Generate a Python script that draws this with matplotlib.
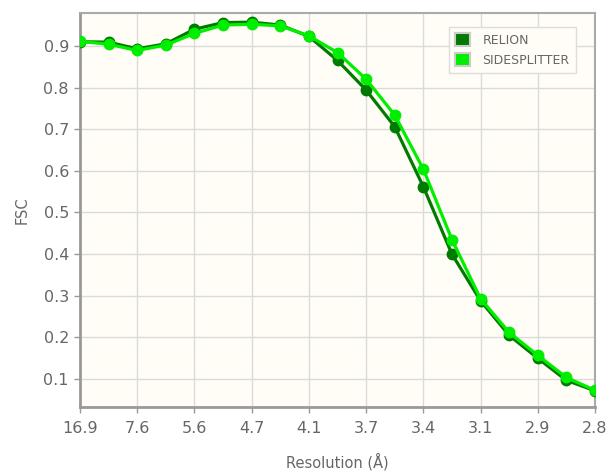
import matplotlib
matplotlib.use("Agg")
import matplotlib.pyplot as plt
from matplotlib.patches import Patch
import numpy as np

# ================================
# %% Data
# ++++++++++++++++++++++++++++++++

tick_labels = ["16.9", "7.6", "5.6", "4.7", "4.1", "3.7", "3.4", "3.1", "2.9", "2.8"]

relion = [0.910, 0.909, 0.893, 0.905, 0.940, 0.956, 0.957, 0.950, 0.923,
          0.865, 0.794, 0.706, 0.562, 0.400, 0.288, 0.205, 0.150, 0.097, 0.072]
sidesplitter = [0.911, 0.904, 0.889, 0.902, 0.930, 0.950, 0.952, 0.948, 0.924,
                0.884, 0.820, 0.734, 0.604, 0.435, 0.293, 0.212, 0.157, 0.104, 0.073]

# ================================
# %% Style
# ++++++++++++++++++++++++++++++++

c_relion = "#007a00"
c_side = "#00ee00"
txt_color = "#666666"

fig = plt.figure(figsize=(6.14, 4.72), dpi=100)
ax = fig.add_axes([80/614, 65/472, 515/614, 394/472])
ax.set_facecolor("#fffdf5")

x = np.arange(len(relion))

ax.plot(x, relion, color=c_relion, lw=2.3, marker="o", ms=7.5, zorder=3)
ax.plot(x, sidesplitter, color=c_side, lw=2.3, marker="o", ms=7.5, zorder=4)

ax.set_xlim(0, len(relion) - 1)
ax.set_ylim(0.033, 0.979)

ax.set_xticks(x[::2])
ax.set_xticklabels(tick_labels)
ax.set_yticks(np.arange(0.1, 0.95, 0.1))
ax.set_yticklabels([f"{v:.1f}" for v in np.arange(0.1, 0.95, 0.1)])

ax.grid(True, color="#dadada", lw=1)
ax.set_axisbelow(True)

ax.tick_params(axis="both", colors="#999999", labelcolor=txt_color,
               labelsize=11.5, length=4, width=1)
ax.tick_params(axis="x", pad=6)
ax.tick_params(axis="y", pad=4)

for side in ["left", "bottom"]:
    ax.spines[side].set_color("#999999")
    ax.spines[side].set_linewidth(2)
for side in ["top", "right"]:
    ax.spines[side].set_color("#aaaaaa")
    ax.spines[side].set_linewidth(1.5)

ax.set_xlabel("Resolution (Å)", color=txt_color, fontsize=10.5, labelpad=12)
ax.set_ylabel("FSC", color=txt_color, fontsize=10.5, labelpad=10)

handles = [Patch(facecolor=c_relion, edgecolor="#cccccc", lw=1.5, label="RELION"),
           Patch(facecolor=c_side, edgecolor="#cccccc", lw=1.5, label="SIDESPLITTER")]
leg = ax.legend(handles=handles, loc="upper right", bbox_to_anchor=(0.975, 0.98),
                fontsize=9, frameon=True, fancybox=False, handlelength=1.2,
                handleheight=1.2, handletextpad=1.0, borderpad=0.5, labelspacing=0.5)
leg.get_frame().set_edgecolor("#dddddd")
leg.get_frame().set_facecolor("#fffdf5")
leg.get_frame().set_alpha(1)
for t in leg.get_texts():
    t.set_color(txt_color)

fig.savefig("out.png", dpi=100)
